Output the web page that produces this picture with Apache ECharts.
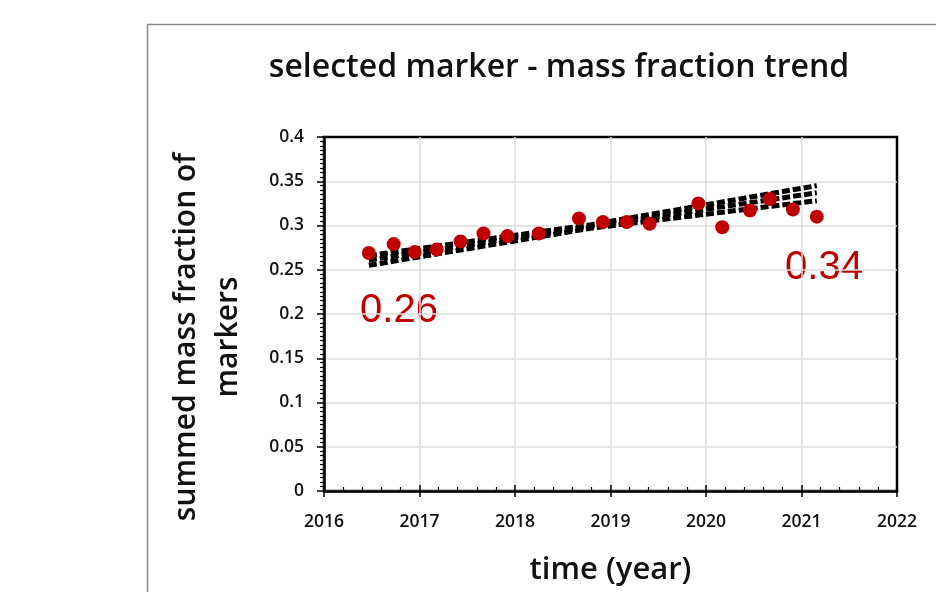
<!DOCTYPE html>
<html>
<head>
<meta charset="utf-8">
<script src="https://cdn.jsdelivr.net/npm/echarts@6/dist/echarts.min.js"></script>
<style>
  html, body { margin: 0; padding: 0; background: #fff; }
  #main { width: 936px; height: 592px; }
</style>
</head>
<body>
<div id="main"></div>
<script>
// measured points (decimal year, summed mass fraction)
const years = [2016.47, 2016.73, 2016.95, 2017.18, 2017.43, 2017.67, 2017.92, 2018.25, 2018.67,
  2018.92, 2019.17, 2019.41, 2019.92, 2020.17, 2020.46, 2020.67, 2020.91, 2021.16];
const fractions = [0.269, 0.279, 0.270, 0.273, 0.282, 0.291, 0.288, 0.291, 0.308,
  0.304, 0.304, 0.302, 0.325, 0.298, 0.317, 0.330, 0.318, 0.310];

// trend line and its bands, read at start, middle and end
const trendYears = [2016.47, 2018.8, 2021.16];
const trendMid = [0.261, 0.299, 0.337];
const trendUpper = [0.266, 0.301, 0.345];
const trendLower = [0.255, 0.297, 0.328];

const startLabel = "0.26";
const endLabel = "0.34";

const pair = (xs, ys) => xs.map((x, i) => [x, ys[i]]);

const tickFont = { fontFamily: "Open Sans", fontWeight: 600, fontSize: 17.5, color: "#111" };
const red = "#c00000";

let myChart = echarts.init(document.getElementById("main"));
let dashLine = (name, values) => ({
  name: name,
  type: "line",
  data: pair(trendYears, values),
  symbol: "none",
  z: 3,
  lineStyle: { color: "#000", width: 5, type: [8, 3] },
});

let option = {
  animation: false,
  title: {
    text: "selected marker - mass fraction trend",
    left: 554,
    top: 47,
    textAlign: "center",
    textStyle: { fontFamily: "Open Sans", fontWeight: 600, fontSize: 32, color: "#111" },
  },
  grid: {
    left: 324,
    right: 39,
    top: 137,
    bottom: 101,
    show: true,
    borderColor: "#000",
    borderWidth: 2.5,
  },
  xAxis: [
    {
      type: "value",
      min: 2016,
      max: 2022,
      interval: 1,
      name: "time (year)",
      nameLocation: "middle",
      nameGap: 64,
      nameTextStyle: { fontFamily: "Open Sans", fontWeight: 600, fontSize: 31, color: "#111" },
      axisLine: { onZero: false, lineStyle: { color: "#000", width: 2.5 } },
      axisTick: { show: true, length: 6, lineStyle: { color: "#000", width: 1.5 } },
      axisLabel: Object.assign({ margin: 22, formatter: (v) => String(v) }, tickFont),
      splitLine: { show: true, showMaxLine: false, lineStyle: { color: "#dcdcdc", width: 1.5 } },
    },
    {
      type: "value",
      position: "bottom",
      min: 2016,
      max: 2022,
      interval: 1,
      axisLine: { show: false },
      axisTick: { show: true, inside: true, length: 6, lineStyle: { color: "#000", width: 1.5 } },
      minorTick: { show: true, splitNumber: 5, length: 4, lineStyle: { color: "#000", width: 1.2 } },
      axisLabel: { show: false },
      splitLine: { show: false },
    },
  ],
  yAxis: [
    {
      type: "value",
      min: 0,
      max: 0.4,
      interval: 0.05,
      axisLine: { show: true, lineStyle: { color: "#000", width: 2.5 } },
      axisTick: { show: true, length: 7, lineStyle: { color: "#000", width: 1.5 } },
      axisLabel: Object.assign({ margin: 20, formatter: (v) => String(+v.toFixed(2)) }, tickFont),
      splitLine: { show: true, showMaxLine: false, lineStyle: { color: "#dcdcdc", width: 1.5 } },
    },
    {
      type: "value",
      position: "left",
      min: 0,
      max: 0.4,
      interval: 0.05,
      axisLine: { show: false },
      axisTick: { show: false },
      minorTick: { show: true, splitNumber: 10, length: 4, lineStyle: { color: "#000", width: 1.2 } },
      axisLabel: { show: false },
      splitLine: { show: false },
    },
  ],
  graphic: [
    {
      type: "rect",
      shape: { x: 147.5, y: 24.5, width: 900, height: 700 },
      style: { fill: null, stroke: "#8a8a8a", lineWidth: 1.5 },
      silent: true,
      z: -1,
    },
    {
      type: "text",
      x: 207,
      y: 337,
      rotation: Math.PI / 2,
      style: {
        text: "summed mass fraction of\nmarkers",
        fontFamily: "Open Sans",
        fontWeight: 600,
        fontSize: 30,
        lineHeight: 42,
        fill: "#111",
        align: "center",
        verticalAlign: "middle",
      },
    },
    {
      type: "text",
      x: 399,
      y: 311,
      style: { text: startLabel, fontFamily: "Liberation Sans", fontSize: 40, fill: red, align: "center", verticalAlign: "middle" },
    },
    {
      type: "text",
      x: 824,
      y: 268,
      style: { text: endLabel, fontFamily: "Liberation Sans", fontSize: 40, fill: red, align: "center", verticalAlign: "middle" },
    },
  ],
  series: [
    dashLine("upper", trendUpper),
    dashLine("trend", trendMid),
    dashLine("lower", trendLower),
    {
      name: "measured",
      type: "scatter",
      data: pair(years, fractions),
      symbolSize: 14,
      z: 4,
      itemStyle: { color: red, opacity: 1 },
    },
  ],
};
myChart.setOption(option);
</script>
</body>
</html>
